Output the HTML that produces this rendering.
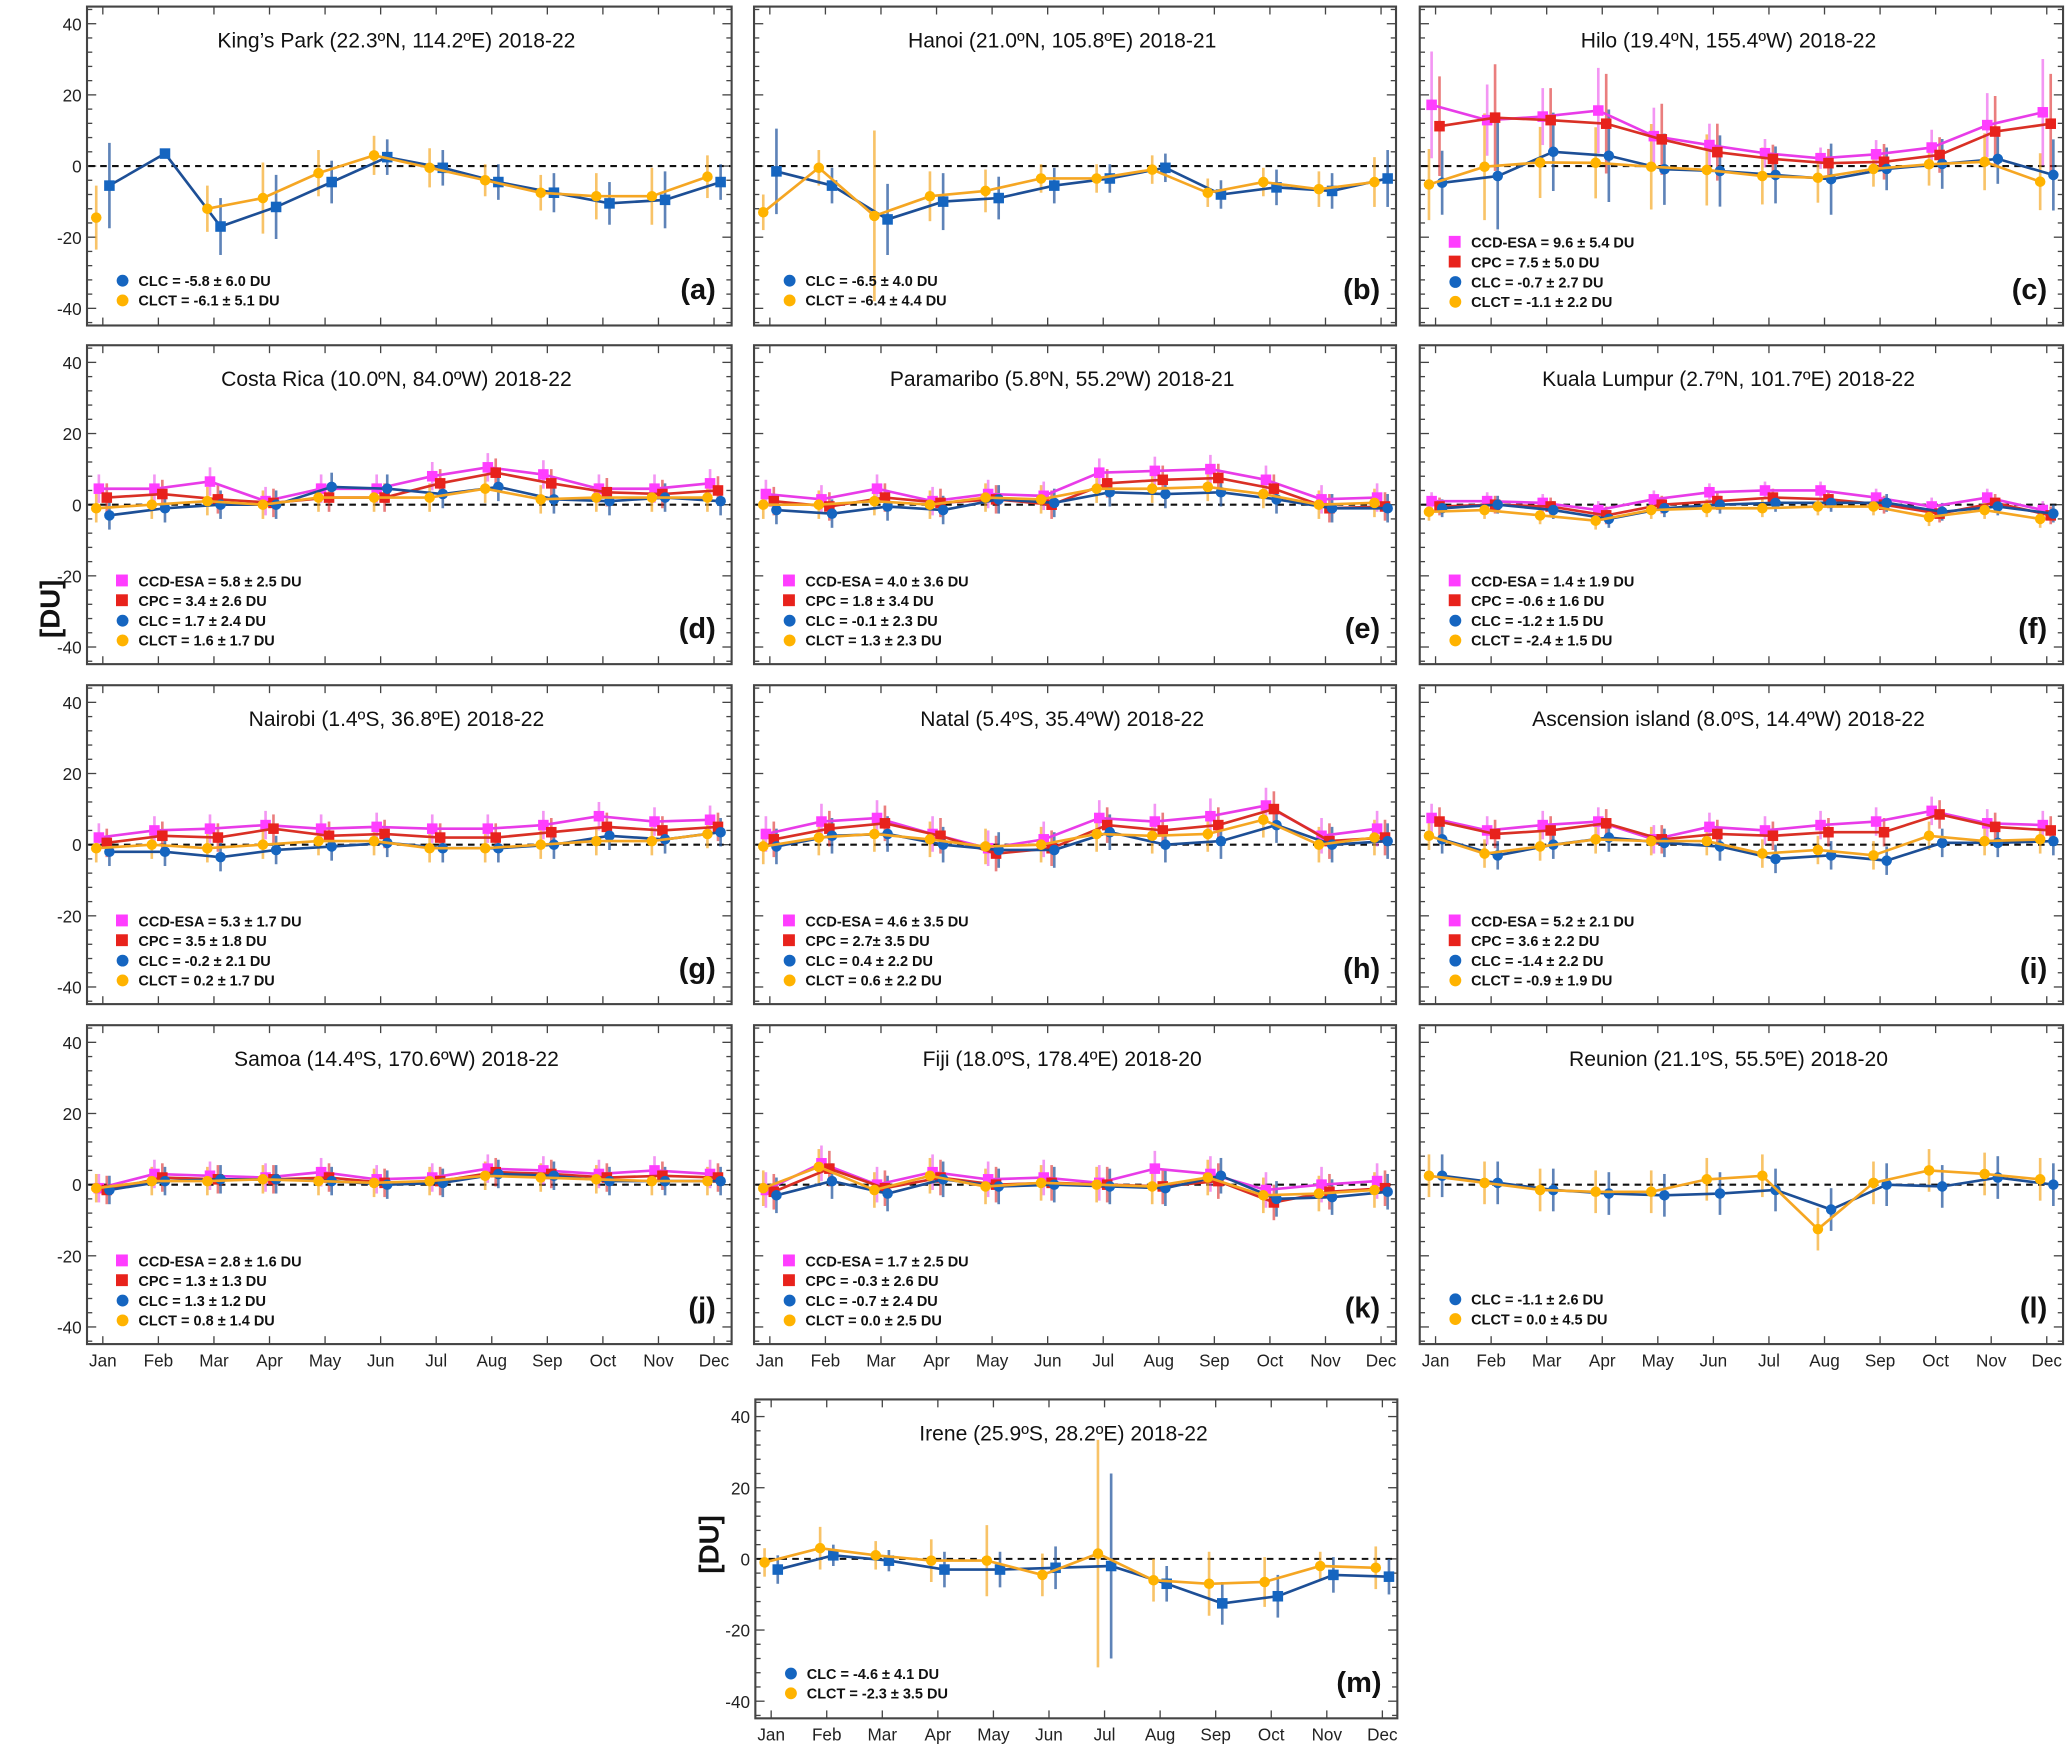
<!DOCTYPE html>
<html><head><meta charset="utf-8"><style>
html,body{margin:0;padding:0;background:#fff;}
svg{display:block;}
text{font-family:"Liberation Sans Narrow","Liberation Sans",sans-serif;}
</style></head><body>
<svg id="fig" width="2067" height="1746" viewBox="0 0 1568 1325" preserveAspectRatio="none" xmlns="http://www.w3.org/2000/svg"></svg>
<script>
const months=["Jan","Feb","Mar","Apr","May","Jun","Jul","Aug","Sep","Oct","Nov","Dec"];
const yTicks=[40,20,0,-20,-40];
// (a) King's Park
const aCLC=[-5.5,3.5,-17,-11.5,-4.5,2.5,-0.5,-4.5,-7.5,-10.5,-9.5,-4.5];
const aCLCerr=[12,1,8,9,6,5,5,5,5.5,6,8,5];
const aCLCT=[-14.5,null,-12,-9,-2,3,-0.5,-4,-7.5,-8.5,-8.5,-3];
const aCLCTerr=[9,0,6.5,10,6.5,5.5,5.5,4.5,5,6.5,8,6];
// (b) Hanoi
const bCLC=[-1.5,-5.5,-15,-10,-9,-5.5,-3.5,-0.5,-8,-6,-7,-3.5];
const bCLCerr=[12,5,10,8,6,5,4,4,4,5,5,8];
const bCLCT=[-13,-0.5,-14,-8.5,-7,-3.5,-3.5,-1,-7.5,-4.5,-6.5,-4.5];
const bCLCTerr=[5,5,24,7,6,4,4,4,4,4,5,7];
// (c) Hilo
const cESA=[17.2,12.9,13.9,15.6,8.4,5.9,3.6,2.2,3.3,5.2,11.5,15.1];
const cESAerr=[15,10,8,12,8,6,4,3,4,5,9,15];
const cCPC=[11.2,13.6,12.9,11.9,7.5,3.9,2.0,0.8,1.2,3.1,9.7,11.9];
const cCPCerr=[14,15,9,14,10,8,4,4,5,5,10,14];
const cCLC=[-4.7,-2.8,4.0,2.9,-0.9,-1.4,-2.5,-3.7,-0.8,0.6,2.0,-2.5];
const cCLCerr=[9,15,11,13,10,10,8,10,6,7,7,10];
const cCLCT=[-5.2,-0.2,1.0,0.9,-0.2,-1.1,-2.8,-3.3,-0.8,0.5,1.2,-4.4];
const cCLCTerr=[10,15,10,10,12,10,8,7,5,6,8,8];
// (d) Costa Rica
const dESA=[4.5,4.5,6.5,1,4.5,4.5,8,10.5,8.5,4.5,4.5,6];
const dCPC=[2,3,1.5,0.5,2,2,6,9,6,3.5,3,4];
const dCLC=[-3,-1,0,0,5,4.5,3,5,1.5,1,2,1];
const dCLCT=[-1,0,1,0,2,2,2,4.5,1.5,2,2,2];
// (e) Paramaribo
const eESA=[3,1.5,4.5,1,3,2.5,9,9.5,10,7,1.5,2];
const eCPC=[1,-0.5,2,0.5,1.5,0,6,7,7.5,4.5,-1,-0.5];
const eCLC=[-1.5,-2.5,-0.5,-1.5,1.5,0.5,3.5,3,3.5,1.5,-1,-1];
const eCLCT=[0,0,1,0,2,1.5,4.5,4.5,5,3,0,0.5];
// (f) Kuala Lumpur
const fESA=[1,1,0.5,-1.5,1.5,3.5,4,4,2,-0.5,2,-1.5];
const fCPC=[-0.5,0,-0.5,-3,0,1,2,1.5,0,-2.5,0.5,-3];
const fCLC=[-1,0,-1.5,-4,-1,0,0.5,0.5,0.5,-2,-0.5,-2.5];
const fCLCT=[-2,-1.5,-3,-4.5,-1.5,-1,-1,-0.5,-0.5,-3.5,-1.5,-4];
// (g) Nairobi
const gESA=[2,4,4.5,5.5,4.5,5,4.5,4.5,5.5,8,6.5,7];
const gCPC=[0.5,2.5,2,4.5,2.5,3,2,2,3.5,5,4,5];
const gCLC=[-2,-2,-3.5,-1.5,-0.5,0.5,-1,-1,0,2.5,1.5,3.5];
const gCLCT=[-1,0,-1,0,1,1,-1,-1,0,1,1,3];
// (h) Natal
const hESA=[3,6.5,7.5,3,-1,1.5,7.5,6.5,8,11,2.5,4.5];
const hCPC=[1.5,4.5,6,2.5,-2.5,-1,5.5,4,5.5,10,1,2];
const hCLC=[-0.5,2.5,3,0,-1.5,-1.5,3.5,0,1,5.5,0,1];
const hCLCT=[-0.5,2,3,1.5,-0.5,0,3,2.5,3,7,0,2];
// (i) Ascension
const iESA=[7.5,4,5.5,6.5,1.5,5,4,5.5,6.5,9.5,6,5.5];
const iCPC=[6.5,3,4,6,1.5,3,2.5,3.5,3.5,8.5,5,4];
const iCLC=[1.5,-3,0,2,0.5,-0.5,-4,-3,-4.5,0.5,0.5,1];
const iCLCT=[2.5,-2.5,-0.5,1.5,1,1,-2.5,-1.5,-3,2.5,1,1.5];
// (j) Samoa
const jESA=[-1,3,2.5,2,3.5,1.5,2,4.5,4,3,4,3];
const jCPC=[-1.5,2,1.5,1.5,2,0.5,1,3.5,3,2,2.5,2];
const jCLC=[-1.5,1,1.5,1.5,1,0,0.5,3,2.5,1,1,1];
const jCLCT=[-1,1,1,1.5,1,0.5,1,2.5,2,1.5,1,1];
// (k) Fiji
const kESA=[-1.5,6,0,3.5,1.5,2,0.5,4.5,3,-1.5,0,1];
const kCPC=[-2,4.5,-1,2,0,0.5,0,-0.5,1,-5,-2,-1];
const kCLC=[-3,1,-2.5,1.5,-0.5,0,-0.5,-1,2.5,-4,-3.5,-2];
const kCLCT=[-1,5,-1.5,2.5,-0.5,0.5,0,-0.5,2,-3,-2.5,-1.5];
// (l) Reunion
const lCLC=[2.5,0.5,-1.5,-2.5,-3,-2.5,-1.5,-7,0,-0.5,2,0];
const lCLCT=[2.5,0.5,-1.5,-2,-2,1.5,2.5,-12.5,0.5,4,3,1.5];
// (m) Irene
const mCLC=[-3,1,-0.5,-3,-3,-2.5,-2,-7,-12.5,-10.5,-4.5,-5];
const mCLCerr=[4,3,3,5,5,6,26,5,6,6,5,5];
const mCLCT=[-1,3,1,-0.5,-0.5,-4.5,1.5,-6,-7,-6.5,-2,-2.5];
const mCLCTerr=[4,6,4,6,10,6,32,6,9,7,4,6];

const NS="http://www.w3.org/2000/svg";
const svg=document.getElementById('fig');
function mk(tag,attrs,parent){const e=document.createElementNS(NS,tag);for(const k in attrs)e.setAttribute(k,attrs[k]);(parent||svg).appendChild(e);return e;}
const COL={ESA:{fill:"#ff3dff",line:"#e83ce8",err:"rgba(235,80,235,0.6)"},CPC:{fill:"#e8221c",line:"#d93025",err:"rgba(220,40,40,0.6)"},CLC:{fill:"#1565c0",line:"#1d4f96",err:"rgba(40,90,160,0.75)"},CLCT:{fill:"#ffb300",line:"#f5a623",err:"rgba(245,170,40,0.7)"}};
const OFF={ESA:-3,CPC:3,CLC:5,CLCT:-5};

function panel(o){
  const g=mk('g',{});
  
  
  const L=o.x,T=o.y,W=o.w,H=242;
  const zero=T+121;
  const ys=v=>zero-v*2.7;
  const xs=i=>L+12+i*42.15;
  const fr=mk('rect',{x:L,y:T,width:W,height:H,fill:'none',stroke:'#444','stroke-width':1.6},g);
  
  
  for(let v=-44;v<=44;v+=4){
    const major=(v%20===0);
    const len=major?7:4;const yy=ys(v);
    mk('line',{x1:L,x2:L+len,y1:yy,y2:yy,stroke:'#444','stroke-width':1},g);
    mk('line',{x1:L+W,x2:L+W-len,y1:yy,y2:yy,stroke:'#444','stroke-width':1},g);
  }
  for(let i=0;i<12;i++){
    mk('line',{x1:xs(i),x2:xs(i),y1:T+H,y2:T+H-6,stroke:'#444','stroke-width':1},g);
    mk('line',{x1:xs(i),x2:xs(i),y1:T,y2:T+6,stroke:'#444','stroke-width':1},g);
  }
  if(o.yl){
    yTicks.forEach(v=>{const t=mk('text',{x:L-4,y:ys(v)+5,'text-anchor':'end','font-size':13,fill:'#222'},g);t.textContent=v;
      });
  }
  if(o.xl){
    months.forEach((m,i)=>{const t=mk('text',{x:xs(i),y:T+H+17,'text-anchor':'middle','font-size':13,fill:'#222'},g);t.textContent=m;
      });
  }
  const zl=mk('line',{x1:L+1,x2:L+W-1,y1:zero,y2:zero,stroke:'#111','stroke-width':1.6,'stroke-dasharray':'5,4'},g);
  
  const tt=mk('text',{x:L+W*0.48,y:T+31,'text-anchor':'middle','font-size':16,fill:'#111'},g);
  tt.textContent=o.title;
  
  o.series.forEach(s=>{
    const c=COL[s.k];
    s.v.forEach((v,i)=>{if(v===null)return;const e=s.e?s.e[i]:s.ec;
      mk('line',{x1:xs(i)+OFF[s.k],x2:xs(i)+OFF[s.k],y1:ys(v-e),y2:ys(v+e),stroke:c.err,'stroke-width':2},g);});
  });
  o.series.forEach(s=>{
    const c=COL[s.k];let d='';let pen=false;
    s.v.forEach((v,i)=>{if(v===null){pen=false;return;}d+=(pen?'L':'M')+(xs(i)+OFF[s.k]).toFixed(1)+','+ys(v).toFixed(1);pen=true;});
    const p=mk('path',{d:d,fill:'none',stroke:c.line,'stroke-width':2},g);
    
    s.v.forEach((v,i)=>{if(v===null)return;const cx=xs(i)+OFF[s.k],cy=ys(v);let m;
      if(s.k==='ESA'||s.k==='CPC'||(s.k==='CLC'&&o.sq)) m=mk('rect',{x:cx-4,y:cy-4,width:8,height:8,fill:c.fill},g);
      else m=mk('circle',{cx:cx,cy:cy,r:4,fill:c.fill},g);
      });
  });
  const n=o.leg.length;const base=n===4?T+179:T+208;
  o.leg.forEach((l,i)=>{const y=base+i*15;const c=COL[l[0]];
    let m;
    if(l[0]==='ESA'||l[0]==='CPC') m=mk('rect',{x:L+22,y:y-5,width:9,height:9,fill:c.fill},g);
    else m=mk('circle',{cx:L+27,cy:y,r:4.5,fill:c.fill},g);
    
    const t=mk('text',{x:L+39,y:y+4,'font-size':11,'font-weight':'bold',fill:'#111'},g);t.textContent=l[1];
    });
  const lt=mk('text',{x:L+W-12,y:T+222,'text-anchor':'end','font-size':22,'font-weight':'bold',fill:'#111'},g);
  lt.textContent='('+o.id+')';
  
}
const cx=[66,572,1077],cw=[489,487,488],ry=[5,262,520,778];
function four(a,b,c,d){return [['ESA','CCD-ESA = '+a],['CPC','CPC = '+b],['CLC','CLC = '+c],['CLCT','CLCT = '+d]];}
function S4(E,C,L,T,ec){return [{k:'ESA',v:E,ec:ec||4},{k:'CPC',v:C,ec:ec||4},{k:'CLC',v:L,ec:ec||4},{k:'CLCT',v:T,ec:ec||4}];}
panel({id:'a',x:cx[0],y:ry[0],w:cw[0],yl:1,sq:1,title:"King\u2019s Park  (22.3\u00BAN, 114.2\u00BAE) 2018-22",series:[{k:'CLC',v:aCLC,e:aCLCerr},{k:'CLCT',v:aCLCT,e:aCLCTerr}],leg:[['CLC','CLC = -5.8 \u00B1 6.0 DU'],['CLCT','CLCT = -6.1 \u00B1 5.1 DU']]});
panel({id:'b',x:cx[1],y:ry[0],w:cw[1],sq:1,title:"Hanoi (21.0\u00BAN, 105.8\u00BAE) 2018-21",series:[{k:'CLC',v:bCLC,e:bCLCerr},{k:'CLCT',v:bCLCT,e:bCLCTerr}],leg:[['CLC','CLC = -6.5 \u00B1 4.0 DU'],['CLCT','CLCT = -6.4 \u00B1 4.4 DU']]});
panel({id:'c',x:cx[2],y:ry[0],w:cw[2],title:"Hilo (19.4\u00BAN, 155.4\u00BAW) 2018-22",series:[{k:'ESA',v:cESA,e:cESAerr},{k:'CPC',v:cCPC,e:cCPCerr},{k:'CLC',v:cCLC,e:cCLCerr},{k:'CLCT',v:cCLCT,e:cCLCTerr}],leg:four('9.6 \u00B1 5.4 DU','7.5 \u00B1 5.0 DU','-0.7 \u00B1 2.7 DU','-1.1 \u00B1 2.2 DU')});
panel({id:'d',x:cx[0],y:ry[1],w:cw[0],yl:1,title:"Costa Rica (10.0\u00BAN, 84.0\u00BAW) 2018-22",series:S4(dESA,dCPC,dCLC,dCLCT),leg:four('5.8 \u00B1 2.5 DU','3.4 \u00B1 2.6 DU','1.7 \u00B1 2.4 DU','1.6 \u00B1 1.7 DU')});
panel({id:'e',x:cx[1],y:ry[1],w:cw[1],title:"Paramaribo (5.8\u00BAN, 55.2\u00BAW) 2018-21",series:S4(eESA,eCPC,eCLC,eCLCT),leg:four('4.0 \u00B1 3.6 DU','1.8 \u00B1 3.4 DU','-0.1 \u00B1 2.3 DU','1.3 \u00B1 2.3 DU')});
panel({id:'f',x:cx[2],y:ry[1],w:cw[2],title:"Kuala Lumpur (2.7\u00BAN, 101.7\u00BAE) 2018-22",series:S4(fESA,fCPC,fCLC,fCLCT,2.5),leg:four('1.4 \u00B1 1.9 DU','-0.6 \u00B1 1.6 DU','-1.2 \u00B1 1.5 DU','-2.4 \u00B1 1.5 DU')});
panel({id:'g',x:cx[0],y:ry[2],w:cw[0],yl:1,title:"Nairobi (1.4\u00BAS, 36.8\u00BAE) 2018-22",series:S4(gESA,gCPC,gCLC,gCLCT),leg:four('5.3 \u00B1 1.7 DU','3.5 \u00B1 1.8 DU','-0.2 \u00B1 2.1 DU','0.2 \u00B1 1.7 DU')});
panel({id:'h',x:cx[1],y:ry[2],w:cw[1],title:"Natal (5.4\u00BAS, 35.4\u00BAW) 2018-22",series:S4(hESA,hCPC,hCLC,hCLCT,5),leg:four('4.6 \u00B1 3.5 DU','2.7\u00B1 3.5 DU','0.4 \u00B1 2.2 DU','0.6 \u00B1 2.2 DU')});
panel({id:'i',x:cx[2],y:ry[2],w:cw[2],title:"Ascension island (8.0\u00BAS, 14.4\u00BAW) 2018-22",series:S4(iESA,iCPC,iCLC,iCLCT),leg:four('5.2 \u00B1 2.1 DU','3.6 \u00B1 2.2 DU','-1.4 \u00B1 2.2 DU','-0.9 \u00B1 1.9 DU')});
panel({id:'j',x:cx[0],y:ry[3],w:cw[0],yl:1,xl:1,title:"Samoa (14.4\u00BAS, 170.6\u00BAW) 2018-22",series:S4(jESA,jCPC,jCLC,jCLCT,4),leg:four('2.8 \u00B1 1.6 DU','1.3 \u00B1 1.3 DU','1.3 \u00B1 1.2 DU','0.8 \u00B1 1.4 DU')});
panel({id:'k',x:cx[1],y:ry[3],w:cw[1],xl:1,title:"Fiji (18.0\u00BAS, 178.4\u00BAE) 2018-20",series:S4(kESA,kCPC,kCLC,kCLCT,5),leg:four('1.7 \u00B1 2.5 DU','-0.3 \u00B1 2.6 DU','-0.7 \u00B1 2.4 DU','0.0 \u00B1 2.5 DU')});
panel({id:'l',x:cx[2],y:ry[3],w:cw[2],xl:1,title:"Reunion (21.1\u00BAS, 55.5\u00BAE) 2018-20",series:[{k:'CLC',v:lCLC,ec:6},{k:'CLCT',v:lCLCT,ec:6}],leg:[['CLC','CLC = -1.1 \u00B1 2.6 DU'],['CLCT','CLCT = 0.0 \u00B1 4.5 DU']]});
panel({id:'m',x:573,y:1062,w:487,yl:1,xl:1,sq:1,title:"Irene (25.9\u00BAS, 28.2\u00BAE) 2018-22",series:[{k:'CLC',v:mCLC,e:mCLCerr},{k:'CLCT',v:mCLCT,e:mCLCTerr}],leg:[['CLC','CLC = -4.6 \u00B1 4.1 DU'],['CLCT','CLCT = -2.3 \u00B1 3.5 DU']]});
const du1=mk('text',{x:0,y:0,'text-anchor':'middle','font-size':21,'font-weight':'bold',fill:'#111',transform:'translate(45,462) rotate(-90)'});
du1.textContent='[DU]';
const du2=mk('text',{x:0,y:0,'text-anchor':'middle','font-size':21,'font-weight':'bold',fill:'#111',transform:'translate(545,1172) rotate(-90)'});
du2.textContent='[DU]';
</script>
</body></html>
